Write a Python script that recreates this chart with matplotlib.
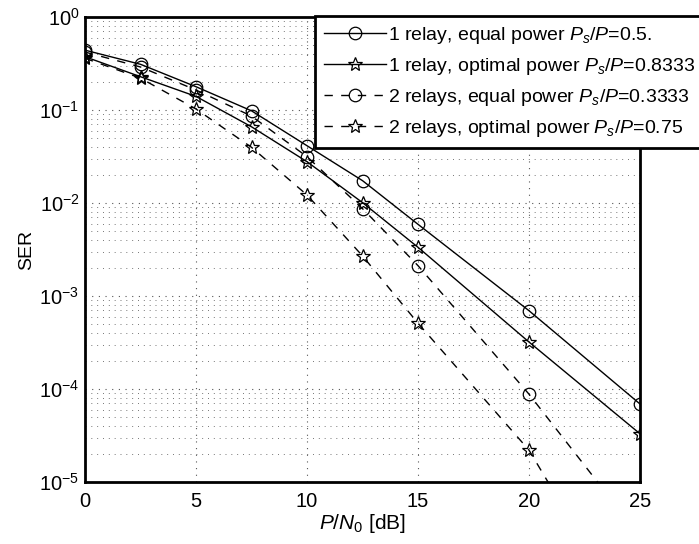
import matplotlib
matplotlib.use("Agg")
import matplotlib.pyplot as plt
from matplotlib.ticker import LogLocator, LogFormatterMathtext, NullFormatter

plt.rcParams['font.family'] = ['Liberation Sans', 'DejaVu Sans']
plt.rcParams['mathtext.fontset'] = 'custom'
plt.rcParams['mathtext.rm'] = 'Liberation Sans'
plt.rcParams['mathtext.it'] = 'Liberation Sans:italic'

# SNR points (dB)
snr = [0, 2.5, 5, 7.5, 10, 12.5, 15, 20, 25]

# SER values
ser_1relay_equal = [0.44, 0.31, 0.178, 0.098, 0.0413, 0.0174, 0.0059, 6.95e-4, 6.9e-5]
ser_1relay_opt = [0.374, 0.228, 0.14, 0.066, 0.0278, 0.0101, 0.00334, 3.2e-4, 3.3e-5]
ser_2relay_equal = [0.42, 0.29, 0.164, 0.086, 0.0315, 0.0087, 0.00212, 8.8e-5, 2.6e-6]
ser_2relay_opt = [0.36, 0.22, 0.1025, 0.0397, 0.0122, 0.0027, 5.1e-4, 2.2e-5, 2.2e-7]

labels = [
    '1 relay, equal power $P_s/P$=0.5.',
    '1 relay, optimal power $P_s/P$=0.8333',
    '2 relays, equal power $P_s/P$=0.3333',
    '2 relays, optimal power $P_s/P$=0.75',
]

fig = plt.figure(figsize=(6.99, 5.44), dpi=100)
ax = fig.add_axes([85 / 699, 1 - 482 / 544, 555 / 699, 465 / 544])

dash = (0, (6, 6))
ax.plot(snr, ser_1relay_equal, color='black', lw=1.0, marker='o', ms=9,
        mfc='none', mec='black', mew=0.9, label=labels[0])
ax.plot(snr, ser_1relay_opt, color='black', lw=1.0, marker='*', ms=10,
        mfc='none', mec='black', mew=0.9, label=labels[1])
ax.plot(snr, ser_2relay_equal, color='black', lw=1.0, ls=dash, marker='o', ms=9,
        mfc='none', mec='black', mew=0.9, label=labels[2])
ax.plot(snr, ser_2relay_opt, color='black', lw=1.0, ls=dash, marker='*', ms=10,
        mfc='none', mec='black', mew=0.9, label=labels[3])

ax.set_yscale('log')
ax.set_xlim(0, 25)
ax.set_ylim(1e-5, 1)
ax.set_xticks([0, 5, 10, 15, 20, 25])
ax.yaxis.set_major_locator(LogLocator(base=10, numticks=10))
ax.yaxis.set_major_formatter(LogFormatterMathtext())
ax.yaxis.set_minor_locator(LogLocator(base=10, subs=range(2, 10), numticks=10))
ax.yaxis.set_minor_formatter(NullFormatter())

ax.grid(True, which='major', ls=(0, (1, 5)), color='#555555', lw=0.8)
ax.grid(True, which='minor', axis='y', ls=(0, (1, 5)), color='#777777', lw=0.7)

ax.tick_params(which='both', direction='in', labelsize=14.5, length=0)
ax.tick_params(axis='x', pad=7)
ax.tick_params(axis='y', pad=4)
for s in ax.spines.values():
    s.set_linewidth(2.0)

ax.set_xlabel('$P/N_0$ [dB]', fontsize=15, labelpad=1)
ax.set_ylabel('SER', fontsize=14, labelpad=3)

leg = ax.legend(loc='upper left', bbox_to_anchor=(315 / 699, 1 - 16 / 544),
                bbox_transform=fig.transFigure, fontsize=14, handlelength=3.2,
                handletextpad=0.12, labelspacing=0.52, borderpad=0.45,
                borderaxespad=0, frameon=True, fancybox=False,
                edgecolor='black', framealpha=1)
leg.get_frame().set_linewidth(2.0)

fig.savefig('out.png', dpi=100)
